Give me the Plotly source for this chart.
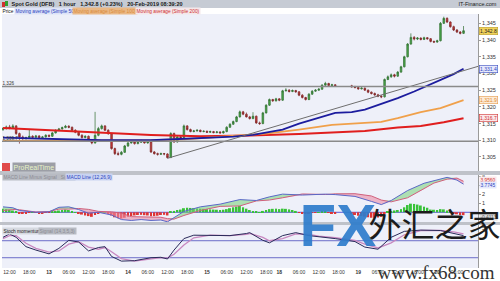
import plotly.graph_objects as go

# ---------------- data (hourly bars, index 0 = 12-Feb 10:00) ----------------
IDX = list(range(141))
OPEN = [1313.2,1313.5,1314.0,1313.6,1314.3,1312.0,1311.0,1310.5,1310.8,1311.2,
        1310.9,1311.3,1310.8,1311.0,1311.5,1311.2,1312.2,1313.0,1313.4,1313.8,
        1314.2,1313.9,1313.0,1312.4,1311.5,1310.8,1311.2,1310.2,1309.2,1311.5,
        1313.5,1314.3,1313.0,1312.0,1307.5,1306.0,1305.8,1306.4,1308.3,1309.2,
        1309.6,1309.0,1309.4,1309.8,1309.2,1309.5,1306.5,1306.0,1305.8,1306.0,
        1305.9,1304.8,1312.0,1309.5,1311.0,1310.8,1314.3,1313.2,1312.6,1312.8,
        1313.0,1312.6,1312.7,1312.4,1312.6,1312.3,1312.5,1312.2,1312.6,1313.9,
        1314.8,1315.6,1317.0,1318.5,1317.8,1317.0,1316.5,1317.2,1315.2,1315.0,
        1318.2,1320.5,1322.2,1321.8,1322.4,1322.0,1324.8,1325.0,1324.6,1324.9,
        1324.5,1323.5,1322.8,1322.2,1323.8,1324.7,1325.0,1325.3,1326.5,1327.0,
        1326.4,1326.6,None,None,None,None,1326.3,1326.0,1325.8,1325.4,
        1325.6,1325.0,1324.4,1324.0,1323.6,1323.2,1323.0,1328.2,1329.0,1329.6,
        1329.2,1330.4,1332.0,1335.0,1338.8,1340.8,1340.3,1340.6,1340.2,1340.7,
        1340.4,1339.6,1339.4,1339.8,1345.0,1346.5,1345.4,1344.0,1343.0,1342.4,
        1342.0]
HIGH = [1313.9,1314.4,1314.6,1314.8,1314.5,1312.3,1311.4,1311.1,1313.4,1311.5,
        1311.6,1311.5,1311.3,1311.8,1311.7,1312.5,1313.3,1313.7,1314.1,1314.6,
        1314.5,1314.1,1313.3,1312.6,1311.8,1311.5,1311.4,1310.4,1318.5,1314.0,
        1314.7,1314.5,1313.3,1312.2,1307.8,1306.6,1306.8,1308.6,1309.5,1310.0,
        1309.9,1309.7,1310.2,1310.0,1309.8,1309.7,1306.8,1306.3,1306.3,1306.2,
        1306.1,1312.4,1312.3,1311.4,1311.3,1314.7,1314.5,1313.5,1313.1,1313.3,
        1313.2,1313.0,1312.9,1312.9,1312.8,1312.8,1312.7,1312.9,1314.2,1315.1,
        1315.9,1317.3,1318.9,1318.8,1318.3,1317.3,1318.4,1317.4,1315.6,1318.5,
        1320.8,1322.5,1322.4,1322.7,1322.6,1325.1,1325.6,1325.3,1325.2,1325.1,
        1324.7,1323.8,1323.0,1324.1,1325.0,1325.3,1325.6,1326.8,1327.5,1327.2,
        1326.9,1326.8,None,None,None,None,1326.6,1326.3,1326.0,1325.9,
        1325.8,1325.2,1324.6,1324.3,1323.9,1323.5,1328.5,1329.4,1330.0,1329.9,
        1330.7,1332.3,1335.3,1339.1,1342.0,1341.2,1340.9,1340.8,1341.0,1340.9,
        1340.6,1339.8,1340.1,1345.4,1347.0,1346.8,1345.6,1344.3,1343.3,1342.7,
        1344.2]
LOW = [1312.8,1313.2,1313.3,1313.4,1311.6,1309.0,1310.1,1310.2,1310.5,1310.6,
       1310.6,1310.5,1310.5,1310.8,1310.9,1311.0,1312.0,1312.8,1313.2,1313.6,
       1313.6,1312.7,1312.1,1311.2,1310.5,1310.6,1309.9,1308.8,1309.0,1311.2,
       1313.2,1312.8,1311.6,1307.2,1305.6,1305.4,1305.5,1306.2,1308.0,1309.0,
       1308.7,1308.8,1309.2,1309.0,1309.0,1306.2,1305.7,1305.4,1305.6,1305.5,
       1304.6,1304.7,1309.2,1309.3,1310.5,1310.6,1312.9,1312.4,1312.4,1312.6,
       1312.4,1312.4,1312.2,1312.2,1312.1,1312.1,1312.0,1312.0,1312.4,1313.7,
       1314.6,1315.4,1316.8,1317.5,1316.8,1316.2,1316.3,1314.9,1314.6,1314.8,
       1318.0,1320.3,1321.5,1321.6,1321.7,1321.8,1324.6,1324.3,1324.4,1324.2,
       1323.2,1322.5,1321.9,1322.0,1323.6,1324.5,1324.8,1325.1,1326.3,1326.1,
       1326.2,1326.0,None,None,None,None,1325.8,1325.5,1325.1,1325.2,
       1324.8,1324.1,1323.7,1323.3,1322.9,1322.6,1322.8,1328.0,1328.7,1328.8,
       1329.0,1330.2,1331.8,1334.8,1338.6,1339.9,1340.0,1339.9,1340.0,1340.1,
       1339.3,1339.1,1339.2,1339.6,1344.8,1345.1,1343.7,1342.7,1342.1,1341.7,
       1341.8]
CLOSE = [1313.5,1314.0,1313.6,1314.3,1312.0,1311.0,1310.5,1310.8,1311.2,1310.9,
         1311.3,1310.8,1311.0,1311.5,1311.2,1312.2,1313.0,1313.4,1313.8,1314.2,
         1313.9,1313.0,1312.4,1311.5,1310.8,1311.2,1310.2,1309.2,1311.5,1313.5,
         1314.3,1313.0,1312.0,1307.5,1306.0,1305.8,1306.4,1308.3,1309.2,1309.6,
         1309.0,1309.4,1309.8,1309.2,1309.5,1306.5,1306.0,1305.8,1306.0,1305.9,
         1304.8,1312.0,1309.5,1311.0,1310.8,1314.3,1313.2,1312.6,1312.8,1313.0,
         1312.6,1312.7,1312.4,1312.6,1312.3,1312.5,1312.2,1312.6,1313.9,1314.8,
         1315.6,1317.0,1318.5,1317.8,1317.0,1316.5,1317.2,1315.2,1315.0,1318.2,
         1320.5,1322.2,1321.8,1322.4,1322.0,1324.8,1325.0,1324.6,1324.9,1324.5,
         1323.5,1322.8,1322.2,1323.8,1324.7,1325.0,1325.3,1326.5,1327.0,1326.4,
         1326.6,1326.3,None,None,None,None,1326.0,1325.8,1325.4,1325.6,
         1325.0,1324.4,1324.0,1323.6,1323.2,1323.0,1328.2,1329.0,1329.6,1329.2,
         1330.4,1332.0,1335.0,1338.8,1340.8,1340.3,1340.6,1340.2,1340.7,1340.4,
         1339.6,1339.4,1339.8,1345.0,1346.5,1345.4,1344.0,1343.0,1342.4,1342.0,
         1342.8]

MA50_X = [0,10,15,30,45,55,60,70,76,85,90,95,101,106,110,115,120,125,129,133,137,140]
MA50_Y = [1310.8,1310.6,1310.4,1310.0,1310.0,1310.4,1310.8,1311.1,1311.6,1313.2,1315.0,
          1316.5,1318.2,1318.4,1319.2,1320.9,1322.6,1324.6,1326.3,1328.0,1329.8,1331.4]
MA100_X = [0,15,30,45,55,60,70,80,90,100,110,115,120,127,133,140]
MA100_Y = [1309.8,1309.8,1309.9,1310.0,1310.3,1310.6,1311.2,1312.0,1313.2,1314.6,1315.2,
           1315.5,1316.6,1318.4,1319.6,1322.0]
MA200_X = [0,15,30,45,60,75,90,100,110,120,127,134,140]
MA200_Y = [1313.7,1313.0,1312.2,1311.6,1311.2,1311.4,1311.9,1312.3,1312.8,1313.8,1314.3,1315.4,1316.6]

TREND_X = [50, 145]
TREND_Y = [1304.6, 1332.3]
H_LEVELS = [1326.1, 1309.7]
H_LABELS = ["1,326", "1,309.7"]

MACD_X = [0,3,5,10,14,17,20,23,26,29,33,36,39,42,45,48,50,52,55,60,66,72,77,81,85,91,98,101,107,112,
          115,118,123,128,131,135,138,140]
MACD_Y = [0.6,0.5,0.2,0.0,0.05,0.55,0.6,0.3,-0.1,0.0,-0.3,-0.8,-0.9,-0.8,-0.9,-0.85,-1.05,-0.6,0.1,0.6,
          0.9,1.4,1.3,1.7,2.0,1.9,2.0,1.95,1.75,1.2,0.85,1.3,2.4,3.2,3.5,3.85,3.55,3.1]
SIG_Y = [0.2,0.3,0.28,0.03,0.08,0.35,0.35,0.42,0.32,0.1,0.05,-0.1,-0.48,-0.52,-0.5,-0.55,-0.7,-0.75,-0.35,0.2,
         0.65,0.7,1.25,1.35,1.6,2.02,1.96,2.03,2.05,1.8,1.35,1.15,1.6,2.58,3.22,3.65,3.77,3.42]
HIST = [0.40,0.35,0.28,0.20,0.05,-0.08,-0.12,-0.10,-0.06,0.02,
        -0.03,-0.08,-0.10,-0.07,-0.03,0.05,0.12,0.20,0.26,0.30,
        0.25,0.15,0.02,-0.12,-0.25,-0.35,-0.42,-0.50,-0.30,-0.10,
        0.05,0.02,-0.10,-0.35,-0.55,-0.65,-0.70,-0.60,-0.50,-0.42,
        -0.35,-0.30,-0.28,-0.32,-0.35,-0.45,-0.42,-0.38,-0.30,-0.28,
        -0.35,0.10,0.15,0.25,0.30,0.45,0.50,0.48,0.45,0.42,
        0.40,0.38,0.35,0.32,0.30,0.28,0.25,0.28,0.35,0.45,
        0.55,0.62,0.70,0.55,0.40,0.25,0.15,0.05,0.02,0.15,
        0.25,0.35,0.38,0.40,0.35,0.40,0.38,0.32,0.25,0.15,
        -0.05,-0.12,-0.15,-0.10,-0.05,-0.02,0.02,0.05,0.04,-0.05,
        -0.10,-0.08,None,None,None,None,-0.20,-0.30,-0.38,-0.42,
        -0.48,-0.55,-0.60,-0.62,-0.58,-0.50,-0.20,0.05,0.15,0.20,
        0.25,0.35,0.55,0.80,0.95,0.92,0.85,0.75,0.62,0.50,
        0.30,0.28,0.25,0.35,0.32,0.20,0.05,-0.10,-0.22,-0.30,
        -0.32]

STO_X = [0,2,4,7,10,14,17,20,23,26,29,31,33,36,40,45,48,50,52,55,58,63,69,74,75,79,81,85,89,93,
         96,101,107,110,114,118,122,127,133,137,140]
STO_K = [28,36,28,6,-2,-11,2,21,17,-4,4,6,-17,-28,-27,-20,-19,-23,-2,25,33,32,32,37,39,21,15,32,39,32,
         30,25,18,5,0,28,42,45,44,38,32]
STO_D = [25,32,32,14,2,-7,-4,12,18,5,0,4,-6,-22,-28,-23,-20,-21,-12,10,27,33,32,35,37,28,20,25,36,35,
         31,27,21,12,3,15,34,44,44,41,36]
STO_LEVELS = [20, -20]

TICK_IDX = [2,8,14,20,26,32,38,44,50,56,62,68,74,80,84,90,96,102,108,114,120,126,132,138]
TICK_TEXT = ["12:00","18:00","<b>13</b>","06:00","12:00","18:00","<b>14</b>","06:00","12:00","18:00",
             "<b>15</b>","06:00","12:00","18:00","<b>18</b>","06:00","12:00","18:00","<b>19</b>",
             "06:00","12:00","18:00","<b>20</b>","06:00"]
PRICE_TICKS = [1305,1310,1315,1320,1325,1330,1335,1340,1345]
MACD_TICKS = [0,1,2,3,4]
STO_TICKS = [50]

# ---------------- figure ----------------
W, H = 500, 281
def py(p):  # pixel row -> paper y
    return 1 - p / H
def px(p):
    return p / W

fig = go.Figure()

fig.add_trace(go.Candlestick(
    x=IDX, open=OPEN, high=HIGH, low=LOW, close=CLOSE, xaxis='x', yaxis='y',
    increasing=dict(line=dict(color='#2f6d2f', width=0.7), fillcolor='#4aa84b'),
    decreasing=dict(line=dict(color='#7a2424', width=0.7), fillcolor='#cc3b3b'),
    whiskerwidth=0, showlegend=False, hoverinfo='skip'))

fig.add_trace(go.Scatter(x=MA200_X, y=MA200_Y, mode='lines', line=dict(color='#e01e1e', width=2),
                         xaxis='x', yaxis='y', hoverinfo='skip'))
fig.add_trace(go.Scatter(x=MA100_X, y=MA100_Y, mode='lines', line=dict(color='#f0a04a', width=1.8),
                         xaxis='x', yaxis='y', hoverinfo='skip'))
fig.add_trace(go.Scatter(x=MA50_X, y=MA50_Y, mode='lines', line=dict(color='#1c1c9e', width=1.8),
                         xaxis='x', yaxis='y', hoverinfo='skip'))
fig.add_trace(go.Scatter(x=TREND_X, y=TREND_Y, mode='lines', line=dict(color='#6e6e6e', width=1),
                         xaxis='x', yaxis='y', hoverinfo='skip', cliponaxis=True))

# MACD pane
fig.add_trace(go.Bar(x=IDX, y=HIST, width=0.6, xaxis='x', yaxis='y2', hoverinfo='skip',
                     marker=dict(color=['#38c238' if (v is not None and v >= 0) else '#e03434' for v in HIST],
                                 line=dict(width=0))))
upper = [max(a, b) for a, b in zip(MACD_Y, SIG_Y)]
lower = [min(a, b) for a, b in zip(MACD_Y, SIG_Y)]
fig.add_trace(go.Scatter(x=MACD_X, y=SIG_Y, mode='lines', line=dict(width=0), xaxis='x', yaxis='y2', hoverinfo='skip'))
fig.add_trace(go.Scatter(x=MACD_X, y=upper, mode='lines', line=dict(width=0), fill='tonexty',
                         fillcolor='rgba(120,210,120,0.55)', xaxis='x', yaxis='y2', hoverinfo='skip'))
fig.add_trace(go.Scatter(x=MACD_X, y=SIG_Y, mode='lines', line=dict(width=0), xaxis='x', yaxis='y2', hoverinfo='skip'))
fig.add_trace(go.Scatter(x=MACD_X, y=lower, mode='lines', line=dict(width=0), fill='tonexty',
                         fillcolor='rgba(235,140,165,0.6)', xaxis='x', yaxis='y2', hoverinfo='skip'))
fig.add_trace(go.Scatter(x=MACD_X, y=SIG_Y, mode='lines', line=dict(color='#d0607c', width=1),
                         xaxis='x', yaxis='y2', hoverinfo='skip'))
fig.add_trace(go.Scatter(x=MACD_X, y=MACD_Y, mode='lines', line=dict(color='#5a68c8', width=1),
                         xaxis='x', yaxis='y2', hoverinfo='skip'))

# Stochastic momentum pane
fig.add_trace(go.Scatter(x=STO_X, y=STO_D, mode='lines', line=dict(color='#c888c0', width=1.3),
                         xaxis='x', yaxis='y3', hoverinfo='skip'))
fig.add_trace(go.Scatter(x=STO_X, y=STO_K, mode='lines', line=dict(color='#2a2a5a', width=1),
                         xaxis='x', yaxis='y3', hoverinfo='skip'))

shapes = []
# title bar
shapes.append(dict(type='rect', xref='paper', yref='paper', x0=0, x1=1, y0=py(8), y1=1,
                   fillcolor='#c6cbd4', line=dict(width=0), layer='below'))
# pane dividers
for a, b in [(171, 175), (222, 225)]:
    shapes.append(dict(type='rect', xref='paper', yref='paper', x0=0, x1=1, y0=py(b), y1=py(a),
                       fillcolor='#bfc2c9', line=dict(width=0)))
# horizontal price levels
for lv in H_LEVELS:
    shapes.append(dict(type='line', xref='x domain', yref='y', x0=0, x1=1, y0=lv, y1=lv,
                       line=dict(color='#8a8a8a', width=1.5)))
# MACD zero line
shapes.append(dict(type='line', xref='x domain', yref='y2', x0=0, x1=1, y0=0, y1=0,
                   line=dict(color='#5a5ad8', width=1), layer='below'))
# stoch levels
for lv in STO_LEVELS:
    shapes.append(dict(type='line', xref='x domain', yref='y3', x0=0, x1=1, y0=lv, y1=lv,
                       line=dict(color='#6c6cc8', width=1), layer='below'))
# small icons
shapes.append(dict(type='rect', xref='paper', yref='paper', x0=px(2), x1=px(5), y0=py(7), y1=py(2),
                   fillcolor='#d03030', line=dict(width=0)))
shapes.append(dict(type='rect', xref='paper', yref='paper', x0=px(5), x1=px(8), y0=py(6), y1=py(1),
                   fillcolor='#30a030', line=dict(width=0)))
shapes.append(dict(type='rect', xref='paper', yref='paper', x0=px(2), x1=px(10), y0=py(171), y1=py(163),
                   fillcolor='#e04a4a', line=dict(width=0)))

FONT = 'Liberation Sans'
ann = []
def A(text, x, y, size=5, color='#222', bg=None, border=None, xanchor='left', xref='paper', yref='paper',
      family=FONT, opacity=1):
    d = dict(text=text, x=x, y=y, xref=xref, yref=yref, xanchor=xanchor, yanchor='middle',
             showarrow=False, font=dict(size=size, color=color, family=family), borderpad=0.5,
             opacity=opacity)
    if bg:
        d['bgcolor'] = bg
    if border:
        d['bordercolor'] = border
        d['borderwidth'] = 0.6
    ann.append(d)

A('<b>Spot Gold (DFB)   1 hour   1,342.8 (+0.23%)   20-Feb-2019 08:39:20</b>', px(10), py(4), size=5.5, color='#1a1a1a')
A('IT-Finance.com', px(498), py(4), size=5.5, color='#1a1a1a', xanchor='right')
A('Price', px(1), py(11), size=4.8, color='#111')
A('Moving average (Simple 50)', px(14), py(11), size=4.8, color='#2b3fc0', bg='#dde3f7')
A('Moving average (Simple 100)', px(72), py(11), size=4.8, color='#d98a3a', bg='#eab885')
A('Moving average (Simple 200)', px(135), py(11), size=4.8, color='#d03030', bg='#f4e7ea')
A('ProRealTime', px(12), py(167), size=7, color='#e6f3c6', bg='#9c9ea6')
A('MACD Line Minus Signal   Signal', px(2), py(176.5), size=4.8, color='#8c8c94', bg='#b8bbc3')
A('MACD Line (12,26,9)', px(65), py(176.5), size=4.8, color='#2b3fc0', bg='#c9d3f2')
A('Stoch momentum', px(2), py(230.5), size=4.8, color='#222', bg='#d6d9e0')
A('Signal (14,3,5,3)', px(38), py(230.5), size=4.8, color='#8c8c94', bg='#b8bbc3')
for lv, lab in zip(H_LEVELS, H_LABELS):
    A(lab, px(1), lv + 0.9, size=4.6, color='#333', xref='paper', yref='y')

A('1,342.8', px(479), 1342.8, size=5, color='#222', bg='#f2d35a', border='#b99b2a', yref='y')
A('1,331.4', px(479), 1331.4, size=5, color='#2b3fc0', bg='#e6e9fb', border='#3a4bc0', yref='y')
A('1,321.9', px(479), 1322.0, size=5, color='#e08a30', bg='#fdebd6', border='#e79c4e', yref='y')
A('1,316.7', px(479), 1316.7, size=5, color='#d03030', bg='#fbe8ea', border='#d03030', yref='y')
A('3.9560', px(479), 3.56, size=4.8, color='#d03030', bg='#fbe8ea', yref='y2')
A('3.7745', px(479), 3.01, size=4.8, color='#2b3fc0', bg='#e6e9fb', yref='y2')
A('-0.4113', px(479), -0.49, size=4.8, color='#555', bg='#dcdcdc', yref='y2')

# watermark
A('<b>FX</b>', px(338), py(225), size=60, color='#2f7dcc', xanchor='center', family='Liberation Sans', opacity=0.92)
A('外汇之家', px(434), py(222), size=33, color='#1c1c1c', xanchor='center', family='Noto Sans CJK SC')
A('www.fx68.com', px(436), py(272), size=19, color='#333333', xanchor='center', family='Liberation Serif')

axis_common = dict(showgrid=False, zeroline=False, fixedrange=True)
fig.update_layout(
    template='none', width=W, height=H, margin=dict(l=0, r=0, t=0, b=0),
    paper_bgcolor='white', plot_bgcolor='#eef0f9', showlegend=False,
    font=dict(family=FONT, size=5, color='#333'),
    xaxis=dict(domain=[px(2), px(478)], range=[-0.3, 144.4], anchor='y3', tickvals=TICK_IDX,
               ticktext=TICK_TEXT, tickfont=dict(size=5, color='#333'), ticks='', showline=False,
               rangeslider=dict(visible=False), automargin=False, **axis_common),
    yaxis=dict(domain=[py(171), py(14)], range=[1300.8, 1347.8], anchor='x', side='right',
               tickvals=PRICE_TICKS, tickformat=',d', tickfont=dict(size=5.5, color='#333'),
               showline=True, linecolor='#9a9a9a', linewidth=1, ticks='outside', ticklen=2,
               tickcolor='#9a9a9a', automargin=False, **axis_common),
    yaxis2=dict(domain=[py(222), py(175)], range=[-1.07, 4.11], anchor='x', side='right',
                tickvals=MACD_TICKS, tickfont=dict(size=5.5, color='#333'),
                showline=True, linecolor='#9a9a9a', linewidth=1, ticks='outside', ticklen=2,
                tickcolor='#9a9a9a', automargin=False, **axis_common),
    yaxis3=dict(domain=[py(268), py(225)], range=[-44.2, 57], anchor='x', side='right',
                tickvals=STO_TICKS, tickfont=dict(size=5.5, color='#333'),
                showline=True, linecolor='#9a9a9a', linewidth=1, ticks='outside', ticklen=2,
                tickcolor='#9a9a9a', automargin=False, **axis_common),
    shapes=shapes, annotations=ann,
)

fig.write_html('out.html')
